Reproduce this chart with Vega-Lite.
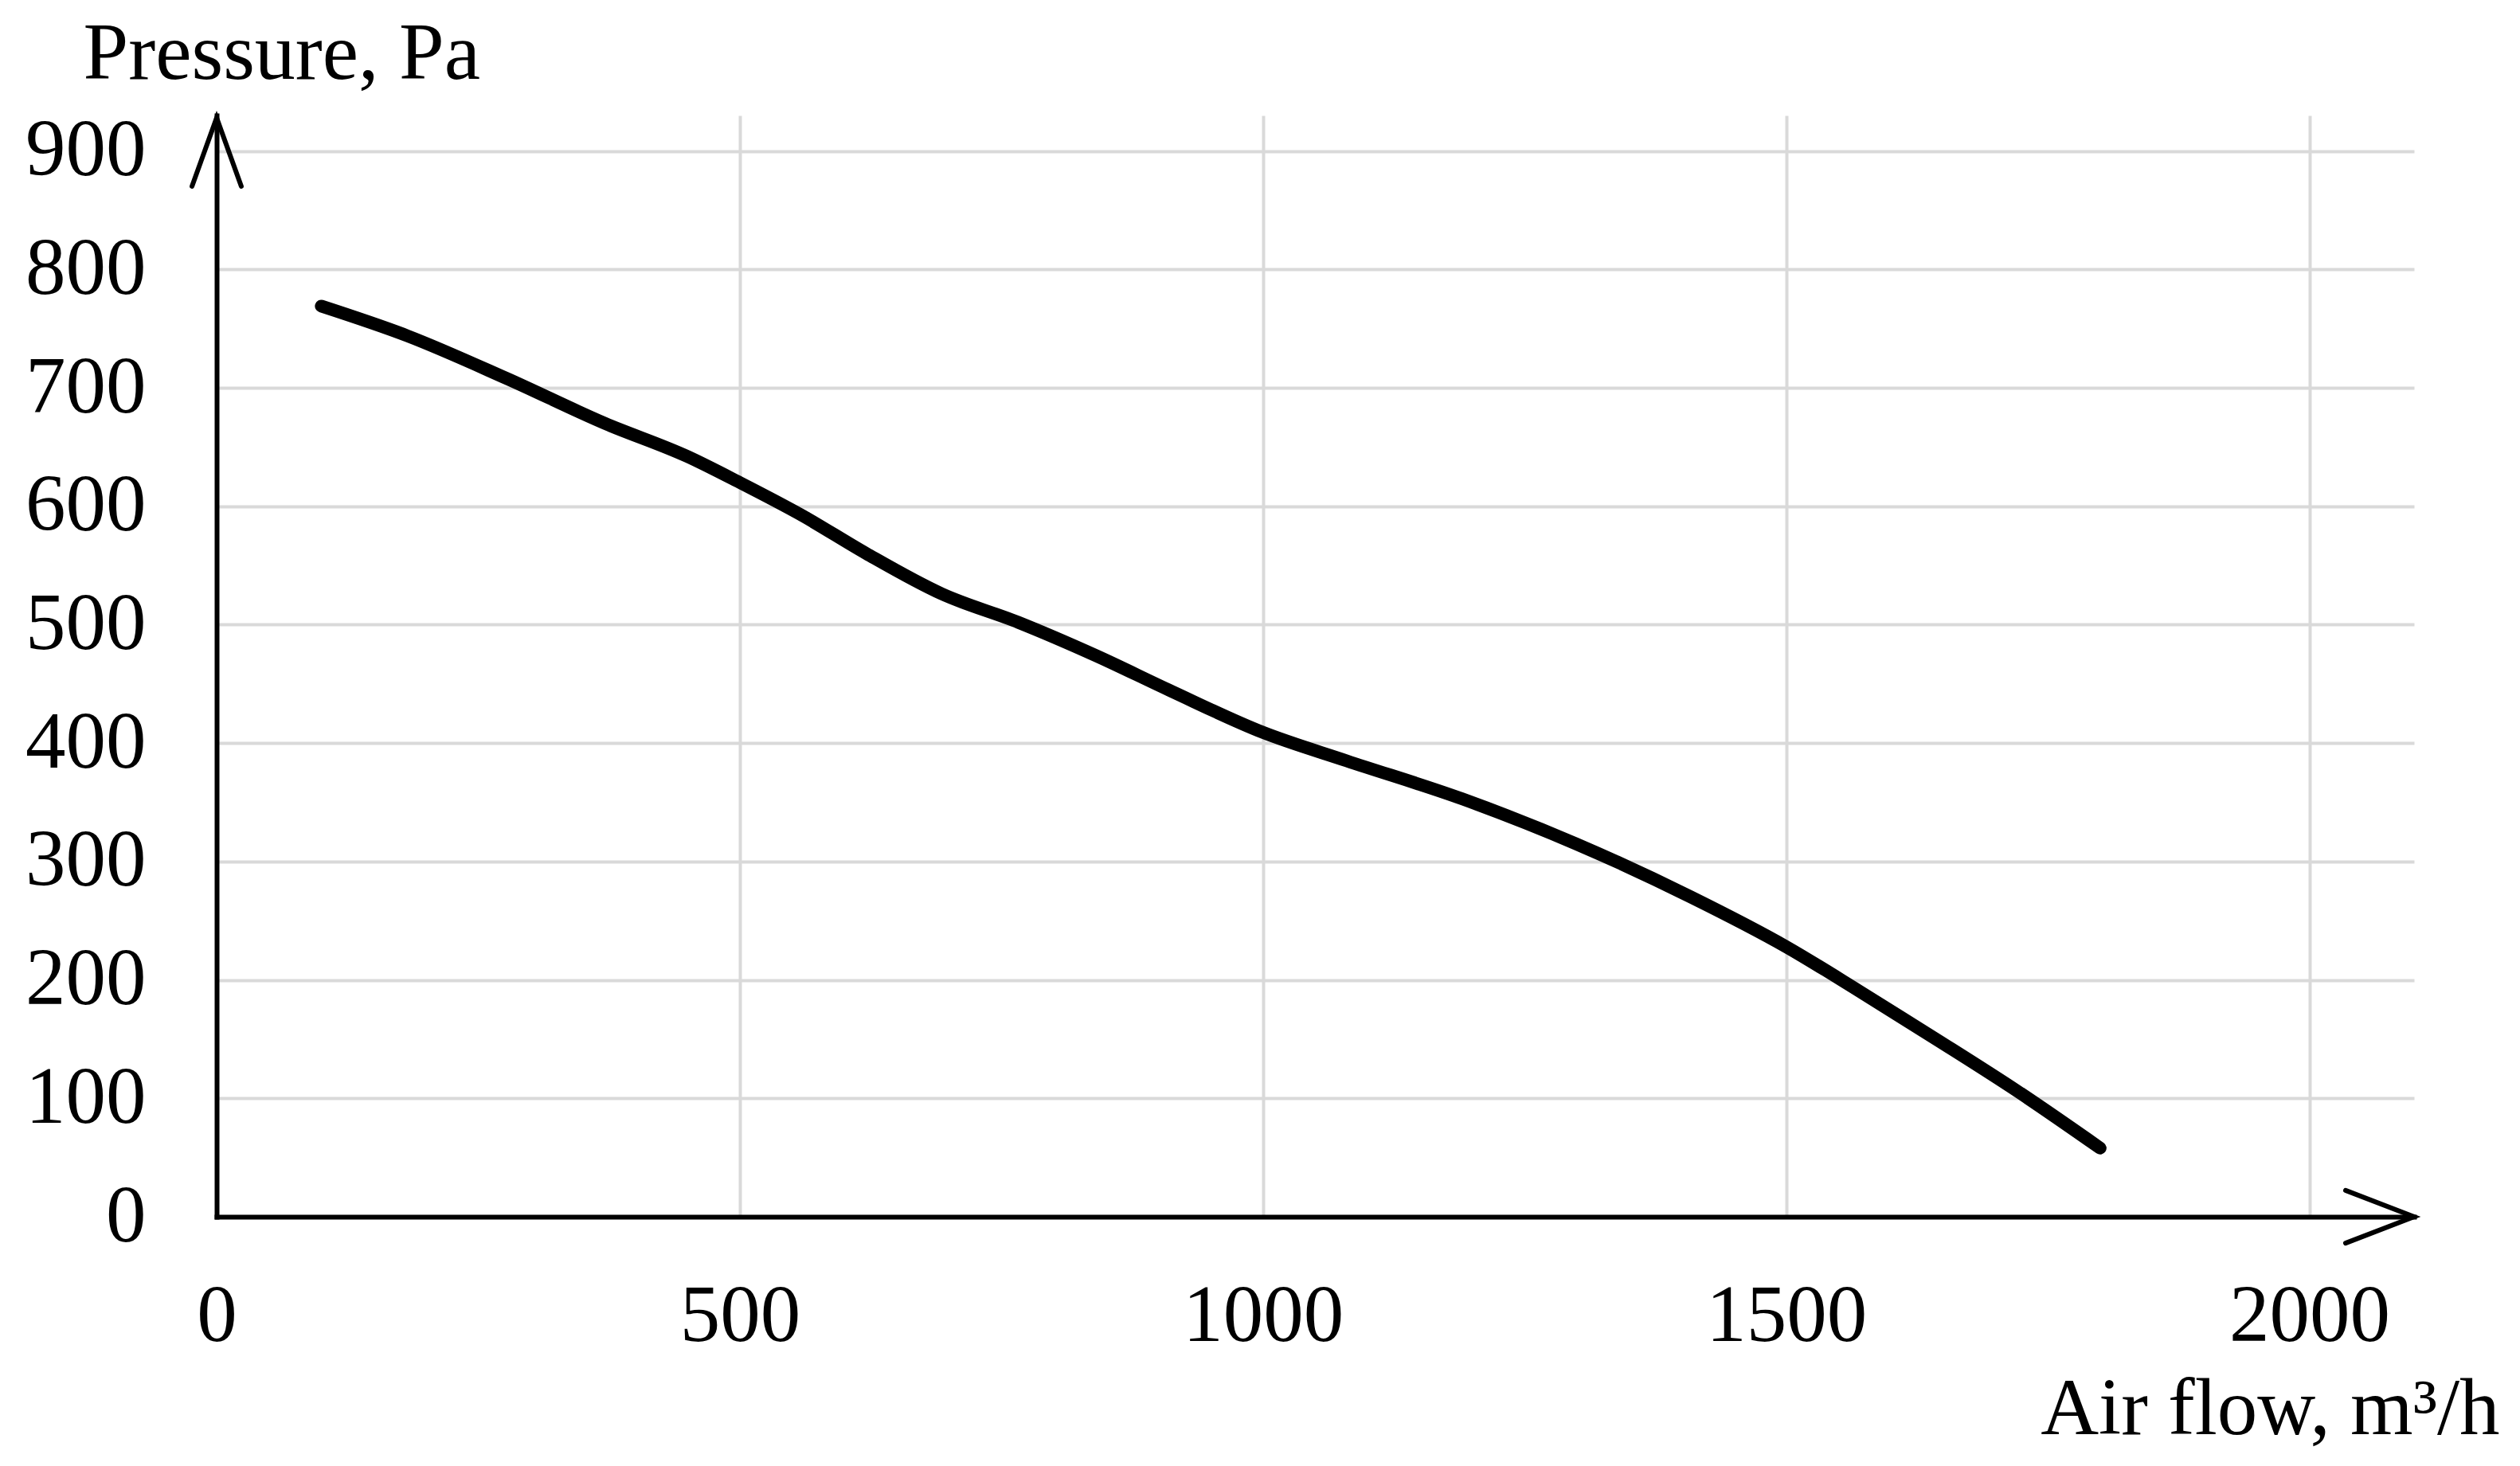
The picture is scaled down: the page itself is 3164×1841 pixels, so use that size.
{
  "$schema": "https://vega.github.io/schema/vega-lite/v6.json",
  "autosize": {"type": "none"},
  "padding": {"left": 272, "top": 145, "right": 133, "bottom": 313},
  "width": 2759,
  "height": 1383,
  "background": "white",
  "config": {"view": {"stroke": null}, "font": "Liberation Serif"},
  "layer": [
    {
      "data": {"values": [
        {"airflow": 100, "pressure": 769},
        {"airflow": 182, "pressure": 744},
        {"airflow": 277, "pressure": 708},
        {"airflow": 371, "pressure": 670},
        {"airflow": 450, "pressure": 642},
        {"airflow": 500, "pressure": 620},
        {"airflow": 560, "pressure": 592},
        {"airflow": 621, "pressure": 560},
        {"airflow": 693, "pressure": 526},
        {"airflow": 766, "pressure": 502},
        {"airflow": 840, "pressure": 474},
        {"airflow": 912, "pressure": 444},
        {"airflow": 1000, "pressure": 409},
        {"airflow": 1080, "pressure": 385},
        {"airflow": 1190, "pressure": 353},
        {"airflow": 1299, "pressure": 315},
        {"airflow": 1409, "pressure": 270},
        {"airflow": 1500, "pressure": 228},
        {"airflow": 1569, "pressure": 191},
        {"airflow": 1645, "pressure": 149},
        {"airflow": 1721, "pressure": 106},
        {"airflow": 1800, "pressure": 58}
      ]},
      "mark": {"type": "line", "color": "black", "strokeWidth": 16, "strokeCap": "round", "strokeJoin": "round", "interpolate": "monotone"},
      "encoding": {
        "x": {
          "field": "airflow", "type": "quantitative",
          "scale": {"domain": [0, 2100], "nice": false, "zero": false},
          "axis": {
            "values": [0, 500, 1000, 1500, 2000],
            "format": "d",
            "title": "Air flow, m³/h",
            "titleFont": "Liberation Serif", "titleFontSize": 101, "titleFontWeight": "normal", "titleColor": "black",
            "titleAlign": "right", "titleBaseline": "alphabetic", "titleX": 2866, "titleY": 272, "titleAngle": 0, "titleLimit": 0,
            "labelFont": "Liberation Serif", "labelFontSize": 101, "labelColor": "black", "labelLimit": 0,
            "labelPadding": 155, "labelBaseline": "alphabetic", "labelFlush": false, "labelOverlap": false,
            "ticks": false, "tickSize": 0,
            "domainColor": "black", "domainWidth": 6, "domainCap": "square",
            "grid": true, "gridColor": "#d9d9d9", "gridWidth": 4, "gridOpacity": 1
          }
        },
        "y": {
          "field": "pressure", "type": "quantitative",
          "scale": {"domain": [0, 930], "nice": false, "zero": false},
          "axis": {
            "values": [0, 100, 200, 300, 400, 500, 600, 700, 800, 900],
            "format": "d",
            "title": "Pressure, Pa",
            "titleFont": "Liberation Serif", "titleFontSize": 102, "titleFontWeight": "normal", "titleColor": "black",
            "titleAlign": "left", "titleBaseline": "alphabetic", "titleX": -168, "titleY": -47, "titleAngle": 0, "titleLimit": 0,
            "labelFont": "Liberation Serif", "labelFontSize": 101, "labelColor": "black", "labelLimit": 0,
            "labelPadding": 89, "labelBaseline": "middle", "labelFlush": false, "labelOverlap": false,
            "ticks": false, "tickSize": 0,
            "domainColor": "black", "domainWidth": 6, "domainCap": "square",
            "grid": true, "gridColor": "#d9d9d9", "gridWidth": 4, "gridOpacity": 1
          }
        }
      }
    },
    {
      "data": {"values": [{}]},
      "mark": {"type": "point", "shape": "M-2,-0.77L0,0L-2,0.77", "size": 7396, "filled": false, "color": "black", "strokeWidth": 6, "strokeCap": "round", "strokeJoin": "miter", "opacity": 1},
      "encoding": {
        "x": {"datum": 2100, "type": "quantitative"},
        "y": {"datum": 0, "type": "quantitative"}
      }
    },
    {
      "data": {"values": [{}]},
      "mark": {"type": "point", "shape": "M-0.72,2L0,0L0.72,2", "size": 7396, "filled": false, "color": "black", "strokeWidth": 6, "strokeCap": "round", "strokeJoin": "miter", "opacity": 1},
      "encoding": {
        "x": {"datum": 0, "type": "quantitative"},
        "y": {"datum": 928, "type": "quantitative"}
      }
    }
  ]
}
